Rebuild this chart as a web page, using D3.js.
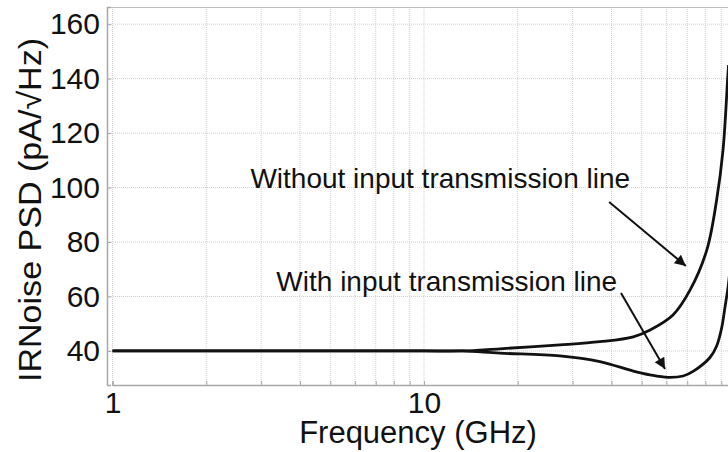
<!DOCTYPE html>
<html>
<head>
<meta charset="utf-8">
<script src="https://cdn.jsdelivr.net/npm/d3@7"></script>
<style>
  body { margin: 0; background: #fff; }
  text { font-family: "Liberation Sans", Arial, sans-serif; fill: #111; }
</style>
</head>
<body>
<script>
// input-referred noise PSD vs frequency, two circuit variants
const withoutFreq = [1, 2, 5, 10, 13.3, 17.5, 27.3, 36.7, 47, 53.2, 63, 71.5, 80.9, 87, 91.2, 94.4, 95];
const withoutPSD  = [40, 40, 40, 40, 40, 40.8, 42.2, 43.4, 45.2, 47.7, 53.2, 62.4, 77.1, 95.5, 113.8, 140.3, 145];
const withFreq = [1, 2, 5, 10, 13.3, 17.5, 27.3, 36.7, 47, 53.2, 60.7, 67.9, 73.3, 82.8, 87, 90.3, 92.5, 94.8, 96];
const withPSD  = [40, 40, 40, 40, 40, 39.2, 38.2, 36.1, 32.6, 31.2, 30.3, 30.8, 32.6, 37.6, 41.8, 48.5, 56, 64, 70];

const xTickLabels = [1, 10];
const yTicks = [40, 60, 80, 100, 120, 140, 160];

// annotations in data space: text end anchor [f, v], arrow from -> to
const notes = [
  {label: 'Without input transmission line', at: [45.9, 99.8], from: [39.3, 94.7], to: [69.3, 71.2]},
  {label: 'With input transmission line', at: [41.7, 62], from: [42.9, 61.3], to: [59.4, 33.4]}
];

const margin = {top: 7, left: 107};
const width = 628;
const height = 378;

const svg = d3.select('body').append('svg')
  .attr('width', 728)
  .attr('height', 452);

svg.append('defs').append('marker')
  .attr('id', 'head')
  .attr('viewBox', '0 0 10 10')
  .attr('refX', 10).attr('refY', 5)
  .attr('markerWidth', 15).attr('markerHeight', 11)
  .attr('markerUnits', 'userSpaceOnUse')
  .attr('orient', 'auto')
  .append('path')
  .attr('d', 'M0,0L10,5L0,10Z')
  .attr('fill', '#111');

const g = svg.append('g').attr('transform', `translate(${margin.left},${margin.top})`);

const x = d3.scaleLog().domain([1, 100]).range([5.5, 628.5]);
const y = d3.scaleLinear().domain([27.5, 166.3]).range([height, 0]);

// minor decade positions 1..9, 10..90, 100
const xMinor = d3.range(1, 10).concat(d3.range(10, 100, 10)).concat([100]);

// grid
g.append('g').selectAll('line.vg')
  .data(xMinor)
  .enter().append('line')
    .attr('class', 'vg')
    .attr('x1', d => x(d)).attr('x2', d => x(d))
    .attr('y1', 0).attr('y2', height)
    .style('stroke', '#cfcfcf')
    .style('stroke-dasharray', '1,1');

g.append('g').selectAll('line.hg')
  .data(yTicks)
  .enter().append('line')
    .attr('class', 'hg')
    .attr('x1', 0).attr('x2', width)
    .attr('y1', d => y(d)).attr('y2', d => y(d))
    .style('stroke', '#cfcfcf')
    .style('stroke-dasharray', '1,1');

// frame (top edge)
g.append('line')
  .attr('x1', 0).attr('x2', width)
  .attr('y1', 0.5).attr('y2', 0.5)
  .style('stroke', '#bdbdbd');

// axes
const xAxis = g.append('g')
  .attr('transform', `translate(0,${height})`)
  .call(d3.axisBottom(x)
    .tickValues(xMinor)
    .tickFormat(d => xTickLabels.includes(d) ? d : '')
    .tickSize(-4)
    .tickPadding(7));

const yAxis = g.append('g')
  .call(d3.axisLeft(y)
    .tickValues(yTicks)
    .tickSize(-4)
    .tickPadding(7));

[xAxis, yAxis].forEach(a => {
  a.select('.domain').style('stroke', '#a8a8a8').style('stroke-width', 1.5);
  a.selectAll('.tick line').style('stroke', '#a8a8a8');
  a.selectAll('.tick text')
    .style('font-size', '30px')
    .style('font-family', '"Liberation Sans", Arial, sans-serif')
    .attr('fill', '#111');
});

// curves
const line = d3.line()
  .x(d => x(d[0]))
  .y(d => y(d[1]))
  .curve(d3.curveCatmullRom.alpha(0.5));

[[withoutFreq, withoutPSD], [withFreq, withPSD]].forEach(([f, v]) => {
  g.append('path')
    .datum(f.map((d, i) => [d, v[i]]))
    .attr('d', line)
    .attr('fill', 'none')
    .style('stroke', '#111')
    .style('stroke-width', 2.8);
});

// annotations
notes.forEach(n => {
  g.append('text')
    .attr('x', x(n.at[0]))
    .attr('y', y(n.at[1]))
    .attr('text-anchor', 'end')
    .style('font-size', '28px')
    .text(n.label);
  g.append('line')
    .attr('x1', x(n.from[0])).attr('y1', y(n.from[1]))
    .attr('x2', x(n.to[0])).attr('y2', y(n.to[1]))
    .style('stroke', '#111')
    .style('stroke-width', 2)
    .attr('marker-end', 'url(#head)');
});

// axis titles
svg.append('text')
  .attr('x', 418)
  .attr('y', 443)
  .attr('text-anchor', 'middle')
  .style('font-size', '31px')
  .text('Frequency (GHz)');

svg.append('text')
  .attr('transform', 'translate(41,210) rotate(-90)')
  .attr('text-anchor', 'middle')
  .attr('textLength', 344)
  .attr('lengthAdjust', 'spacingAndGlyphs')
  .style('font-size', '32px')
  .text('IRNoise PSD (pA/\u221AHz)');
</script>
</body>
</html>
